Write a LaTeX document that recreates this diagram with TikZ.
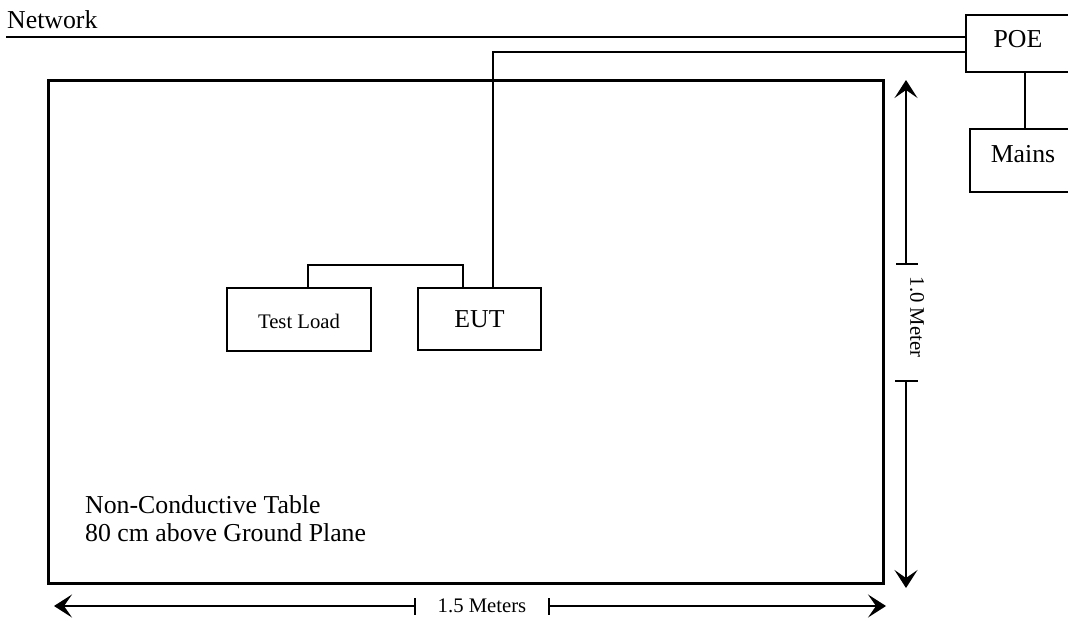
\documentclass[tikz,border=0pt]{standalone}
\usepackage{fontspec}
\setmainfont{Liberation Serif}
\usetikzlibrary{arrows.meta,calc}
\begin{document}
\begin{tikzpicture}[x=1pt,y=-1pt,
  wire/.style={line width=1.5pt},
  box/.style={draw,line width=1.5pt,rectangle,inner sep=0pt},
  big/.style={font=\fontsize{25.8}{28}\selectfont},
  small/.style={font=\fontsize{20.7}{24}\selectfont},
  dimline/.style={line width=1.5pt},
  tip/.style={-{Stealth[length=18pt,width=23pt,inset=8pt]}}]
\useasboundingbox (0,0) rectangle (1068,621);
% table
\draw[line width=3pt] (48,80) rectangle (883,583);
\node[big,anchor=base west,align=left,inner sep=0pt] (tabletext) at (85,541) {Non-Conductive Table\\80 cm above Ground Plane};
% boxes
\node[box,big,minimum width=104pt,minimum height=57pt,text height=18pt,text depth=11pt] (poe) at (1018,43.5) {POE};
\node[box,big,minimum width=106pt,minimum height=63pt,text height=18pt,text depth=15pt] (mains) at (1023,160.5) {Mains};
\node[box,small,minimum width=144pt,minimum height=63pt,text height=17pt,text depth=0pt] (tl) at (299,319.5) {Test Load};
\node[box,big,minimum width=123pt,minimum height=62pt,text height=17pt,text depth=1pt] (eut) at (479.5,319) {EUT};
% network
\node[big,anchor=base west,inner sep=0pt] (nettext) at (7,28) {Network};
\coordinate (netstart) at (6,37);
\draw[wire] (netstart) -- (netstart -| poe.west);
\coordinate (poeout) at (poe.west |- 0,52);
\draw[wire] (poeout) -| ($(eut.north)+(13.5,0)$);
\draw[wire] (poe.south -| 1025,0) -- (mains.north -| 1025,0);
\draw[wire] ($(tl.north)+(9,0)$) |- (463,265) -- ($(eut.north)+(-16.5,0)$);
% vertical dimension
\node[small,rotate=-90] (vlab) at (917,317) {1.0 Meter};
\coordinate (vt1) at (906,264);
\coordinate (vt2) at (906,381);
\draw[dimline,tip] (vt1) -- (906,80);
\draw[dimline,tip] (vt2) -- (906,588);
\draw[dimline] (896,264) -- (918,264);
\draw[dimline] (895,381) -- (918,381);
% horizontal dimension
\node[small] (hlab) at (482,606) {1.5 Meters};
\coordinate (ht1) at (415,606);
\coordinate (ht2) at (549,606);
\draw[dimline,tip] (ht1) -- (54,606);
\draw[dimline,tip] (ht2) -- (886,606);
\draw[dimline] (415,598) -- (415,615);
\draw[dimline] (549,598) -- (549,615);
\end{tikzpicture}
\end{document}
